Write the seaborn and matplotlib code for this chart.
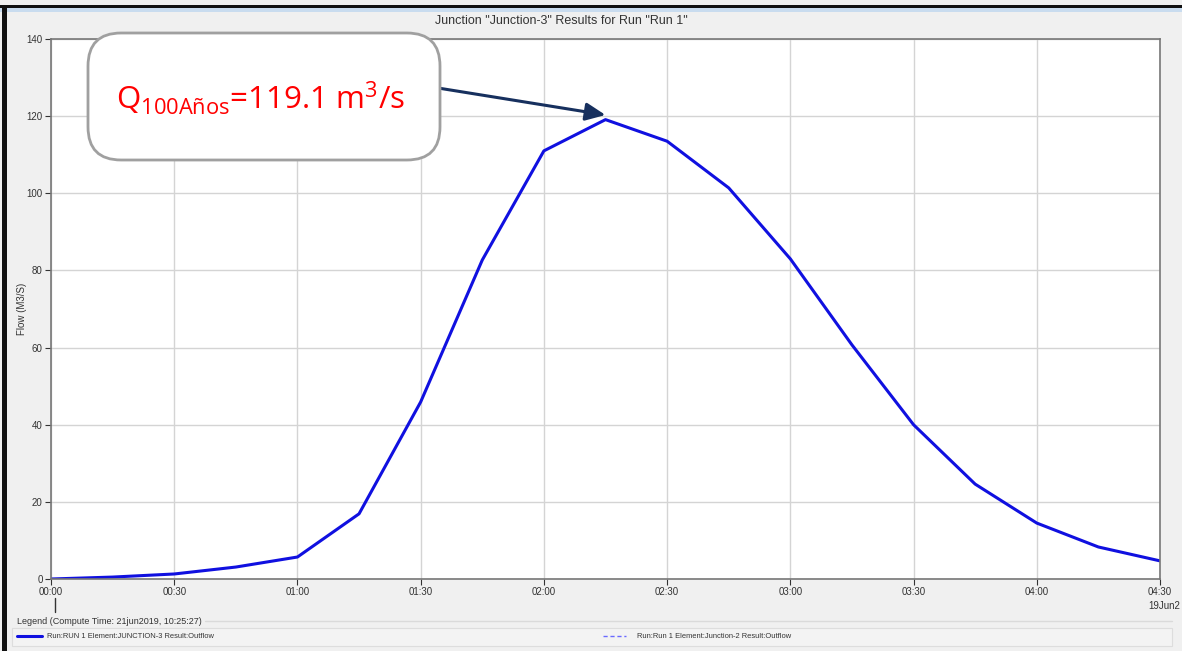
import matplotlib
matplotlib.use("Agg")
from matplotlib import pyplot as plt
from matplotlib.patches import FancyBboxPatch, Rectangle
from matplotlib.lines import Line2D
import pandas as pd
import seaborn as sns

# Outflow hydrograph, Junction-3 (15 min steps)
minutes = [0, 15, 30, 45, 60, 75, 90, 105, 120, 135, 150, 165, 180, 195, 210, 225, 240, 255, 270]
flow = [0.0, 0.5, 1.3, 3.1, 5.7, 16.9, 45.9, 82.7, 111.0, 119.1, 113.5, 101.4, 83.0, 60.7, 40.0, 24.6, 14.5, 8.3, 4.7]
tick_minutes = [0, 30, 60, 90, 120, 150, 180, 210, 240, 270]
tick_labels = ["00:00", "00:30", "01:00", "01:30", "02:00", "02:30", "03:00", "03:30", "04:00", "04:30"]
y_ticks = [0, 20, 40, 60, 80, 100, 120, 140]
peak_time, peak_flow = 135, 119.1

sns.set_theme(style="whitegrid")
plt.rcParams['font.family'] = ['Liberation Sans', 'DejaVu Sans']

W, H = 1182, 651
fig = plt.figure(figsize=(W / 100, H / 100), dpi=100)
fig.patch.set_facecolor('#f0f0f0')

def fx(px):
    return px / W

def fy(py):
    return 1 - py / H

# window frame bits
fig.add_artist(Rectangle((0, fy(12)), 1, 5 / H, transform=fig.transFigure, color='#c9dcef', lw=0))
fig.add_artist(Rectangle((0, fy(8)), 1, 3 / H, transform=fig.transFigure, color='#111111', lw=0))
fig.add_artist(Rectangle((fx(2), 0), 5 / W, fy(6), transform=fig.transFigure, color='#111111', lw=0))

ax = fig.add_axes([fx(51), fy(579), fx(1160 - 51), (579 - 39) / H])
df = pd.DataFrame({'minutes': minutes, 'flow': flow})
sns.lineplot(data=df, x='minutes', y='flow', ax=ax, color='#1010e0', linewidth=2.2)

ax.set_xlim(0, 270)
ax.set_ylim(0, 140)
ax.set_xticks(tick_minutes)
ax.set_xticklabels(tick_labels)
ax.set_yticks(y_ticks)
ax.set_facecolor('white')
ax.grid(True, color='#d4d4d4', linewidth=1)
for s in ax.spines.values():
    s.set_visible(True)
    s.set_color('#777777')
    s.set_linewidth(1.2)
ax.tick_params(axis='both', labelsize=7, colors='#333333', length=4, width=0.8,
               direction='out', bottom=True, left=True, pad=2)
ax.tick_params(axis='x', pad=2)
ax.set_xlabel('')
ax.set_ylabel('Flow (M3/S)', fontsize=7, color='#333333')
ax.yaxis.set_label_coords((27 - 51) / (1160 - 51), 0.5)

fig.text(fx(561), fy(21), 'Junction "Junction-3" Results for Run "Run 1"',
         ha='center', va='center', fontsize=9, color='#333333')
fig.text(fx(1180), fy(606), '19Jun2', ha='right', va='center', fontsize=7, color='#333333')
fig.add_artist(Line2D([fx(55), fx(55)], [fy(598), fy(612)], transform=fig.transFigure, color='#333333', lw=1))

# legend panel
fig.text(fx(17), fy(622), 'Legend (Compute Time: 21jun2019, 10:25:27)', ha='left', va='center',
         fontsize=6.5, color='#333333')
fig.add_artist(Line2D([fx(205), fx(1172)], [fy(621), fy(621)], transform=fig.transFigure, color='#dadada', lw=1))
fig.add_artist(Rectangle((fx(12), fy(646)), fx(1172 - 12), 18 / H, transform=fig.transFigure,
                         facecolor='#f3f3f3', edgecolor='#dddddd', lw=0.8))
fig.add_artist(Line2D([fx(17), fx(42)], [fy(636), fy(636)], transform=fig.transFigure, color='#1010e0', lw=2.2))
fig.text(fx(47), fy(636), 'Run:RUN 1 Element:JUNCTION-3 Result:Outflow', ha='left', va='center',
         fontsize=5.4, color='#333333')
fig.add_artist(Line2D([fx(603), fx(626)], [fy(636), fy(636)], transform=fig.transFigure, color='#6a6aff',
                      lw=1, dashes=(3, 2)))
fig.text(fx(637), fy(636), 'Run:Run 1 Element:Junction-2 Result:Outflow', ha='left', va='center',
         fontsize=5.4, color='#333333')

# annotation box and arrow
fig.add_artist(FancyBboxPatch((fx(88), fy(160)), fx(440 - 88), (160 - 33) / H,
                              boxstyle='round,pad=0,rounding_size=0.028', transform=fig.transFigure,
                              facecolor='white', edgecolor='#a0a0a0', lw=2, mutation_aspect=W / H))
fig.text(fx(116), fy(98), r'Q$_{\mathregular{100Años}}$=119.1 m$^{\mathregular{3}}$/s',
         family='Open Sans', fontsize=22.5, color='#ff0000', ha='left', va='center')
ax.annotate('', xy=(peak_time, peak_flow + 1.2), xycoords='data',
            xytext=(fx(438), fy(88)), textcoords='figure fraction',
            arrowprops=dict(arrowstyle='-|>,head_length=1.0,head_width=0.45', color='#17305e', lw=2.2,
                            shrinkA=0, shrinkB=0))

fig.savefig('out.png', dpi=100, facecolor=fig.get_facecolor())
